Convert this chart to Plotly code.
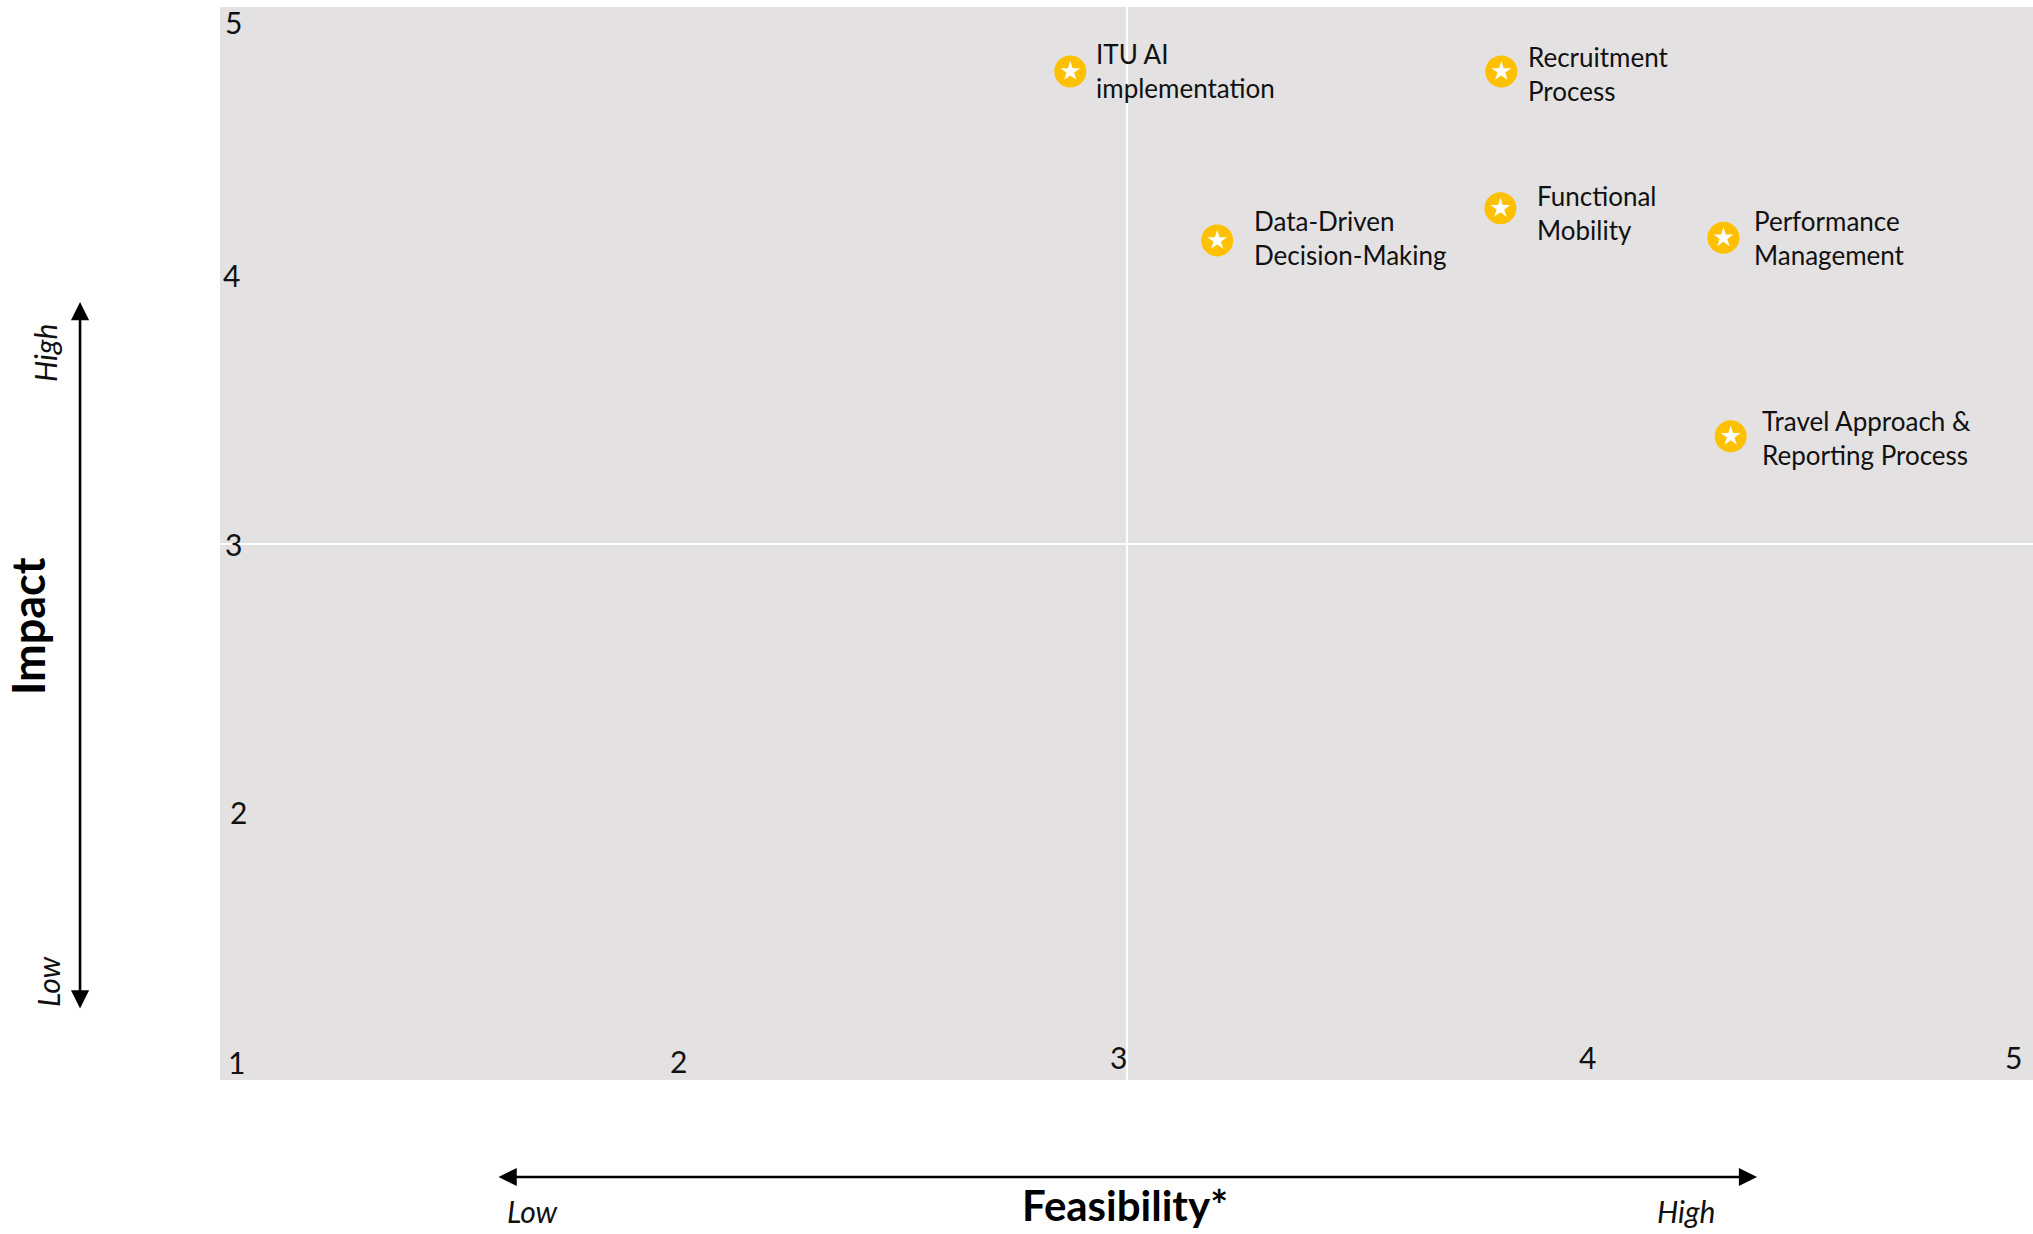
import plotly.graph_objects as go

# ---- data ----
initiatives = [
    "ITU AI<br>implementation",
    "Recruitment<br>Process",
    "Functional<br>Mobility",
    "Data-Driven<br>Decision-Making",
    "Performance<br>Management",
    "Travel Approach &<br>Reporting Process",
]
feasibility = [2.876, 3.827, 3.825, 3.20, 4.317, 4.333]
impact = [4.76, 4.76, 4.25, 4.13, 4.14, 3.40]

tick_values = [1, 2, 3, 4, 5]
tick_labels = ["1", "2", "3", "4", "5"]

# ---- styles ----
FONT = "Lato, 'Open Sans', sans-serif"
YELLOW = "#FFC000"
BG = "#E3E1E2"
TXT = "#111111"

label_shift = [24, 25, 35, 35, 29, 29]
label_yshift = [0, -3, -5, 2, 0, -2]

fig = go.Figure()
fig.add_trace(go.Scatter(
    x=feasibility, y=impact, mode="markers",
    marker=dict(symbol="circle", size=32, color=YELLOW, line=dict(width=0)),
    hoverinfo="skip", showlegend=False,
))
fig.add_trace(go.Scatter(
    x=feasibility, y=impact, mode="markers",
    marker=dict(symbol="star", size=15, color="white", line=dict(width=0)),
    hoverinfo="skip", showlegend=False,
))

annotations = []
for name, xv, yv, xs, ys in zip(initiatives, feasibility, impact, label_shift, label_yshift):
    annotations.append(dict(
        x=xv, y=yv, xref="x", yref="y", text=name, showarrow=False,
        xanchor="left", yanchor="middle", align="left", xshift=xs, yshift=ys,
        font=dict(family=FONT, size=26, color=TXT),
    ))

# y-axis tick labels (inside the plot)
y_anchor = {5: "top", 4: "middle", 3: "middle", 2: "middle"}
y_xshift = {5: 3, 4: 1, 3: 3, 2: 8}
for v, lab in zip(tick_values, tick_labels):
    if v == 1:
        continue  # shared with x-axis "1"
    annotations.append(dict(
        x=0, y=v, xref="paper", yref="y", text=lab, showarrow=False,
        xanchor="left", yanchor=y_anchor[v], xshift=y_xshift[v],
        yshift=5 if v == 5 else 0,
        font=dict(family=FONT, size=30, color=TXT),
    ))

# x-axis tick labels (inside the plot)
x_anchor = {1: "left", 2: "center", 3: "right", 4: "center", 5: "right"}
x_xshift = {1: 6, 2: 5, 3: 2, 4: 8, 5: -9}
x_yshift = {1: -2, 2: -1, 3: 3, 4: 3, 5: 3}
for v, lab in zip(tick_values, tick_labels):
    annotations.append(dict(
        x=v, y=0, xref="x", yref="paper", text=lab, showarrow=False,
        xanchor=x_anchor[v], yanchor="bottom", xshift=x_xshift[v], yshift=x_yshift[v],
        font=dict(family=FONT, size=30, color=TXT),
    ))

# axis titles and direction arrows
annotations += [
    dict(x=0.8478, y=-0.0904, xref="paper", yref="paper", ax=-1260, ay=0,
         axref="pixel", ayref="pixel", text="", showarrow=True,
         arrowhead=2, arrowside="end+start", arrowsize=1.4, arrowwidth=2.6, arrowcolor="black"),
    dict(x=-0.0772, y=0.7251, xref="paper", yref="paper", ax=0, ay=708,
         axref="pixel", ayref="pixel", text="", showarrow=True,
         arrowhead=2, arrowside="end+start", arrowsize=1.4, arrowwidth=2.6, arrowcolor="black"),
    dict(x=0.4992, y=-0.1165, xref="paper", yref="paper", text="<b>Feasibility*</b>",
         showarrow=False, xanchor="center", yanchor="middle",
         font=dict(family=FONT, size=42, color="black", weight=900)),
    dict(x=0.1726, y=-0.1221, xref="paper", yref="paper", text="<i>Low</i>",
         showarrow=False, xanchor="center", yanchor="middle",
         font=dict(family=FONT, size=30, color=TXT)),
    dict(x=0.8086, y=-0.1221, xref="paper", yref="paper", text="<i>High</i>",
         showarrow=False, xanchor="center", yanchor="middle",
         font=dict(family=FONT, size=30, color=TXT)),
    dict(x=-0.1059, y=0.4231, xref="paper", yref="paper", text="<b>Impact</b>",
         showarrow=False, xanchor="center", yanchor="middle", textangle=-90,
         font=dict(family=FONT, size=45, color="black", weight=900)),
    dict(x=-0.0965, y=0.6775, xref="paper", yref="paper", text="<i>High</i>",
         showarrow=False, xanchor="center", yanchor="middle", textangle=-90,
         font=dict(family=FONT, size=30, color=TXT)),
    dict(x=-0.0949, y=0.0923, xref="paper", yref="paper", text="<i>Low</i>",
         showarrow=False, xanchor="center", yanchor="middle", textangle=-90,
         font=dict(family=FONT, size=30, color=TXT)),
]

fig.update_layout(
    width=2033, height=1234, autosize=False,
    margin=dict(l=220, r=0, t=7, b=154, pad=0),
    paper_bgcolor="white", plot_bgcolor=BG,
    font=dict(family=FONT, color=TXT),
    annotations=annotations,
    xaxis=dict(range=[1, 5], tickvals=[3], showticklabels=False, showgrid=True,
               gridcolor="white", gridwidth=2, zeroline=False, showline=False, ticks="",
               fixedrange=True),
    yaxis=dict(range=[1, 5], tickvals=[3], showticklabels=False, showgrid=True,
               gridcolor="white", gridwidth=2, zeroline=False, showline=False, ticks="",
               fixedrange=True),
)

fig.write_html("out.html")
